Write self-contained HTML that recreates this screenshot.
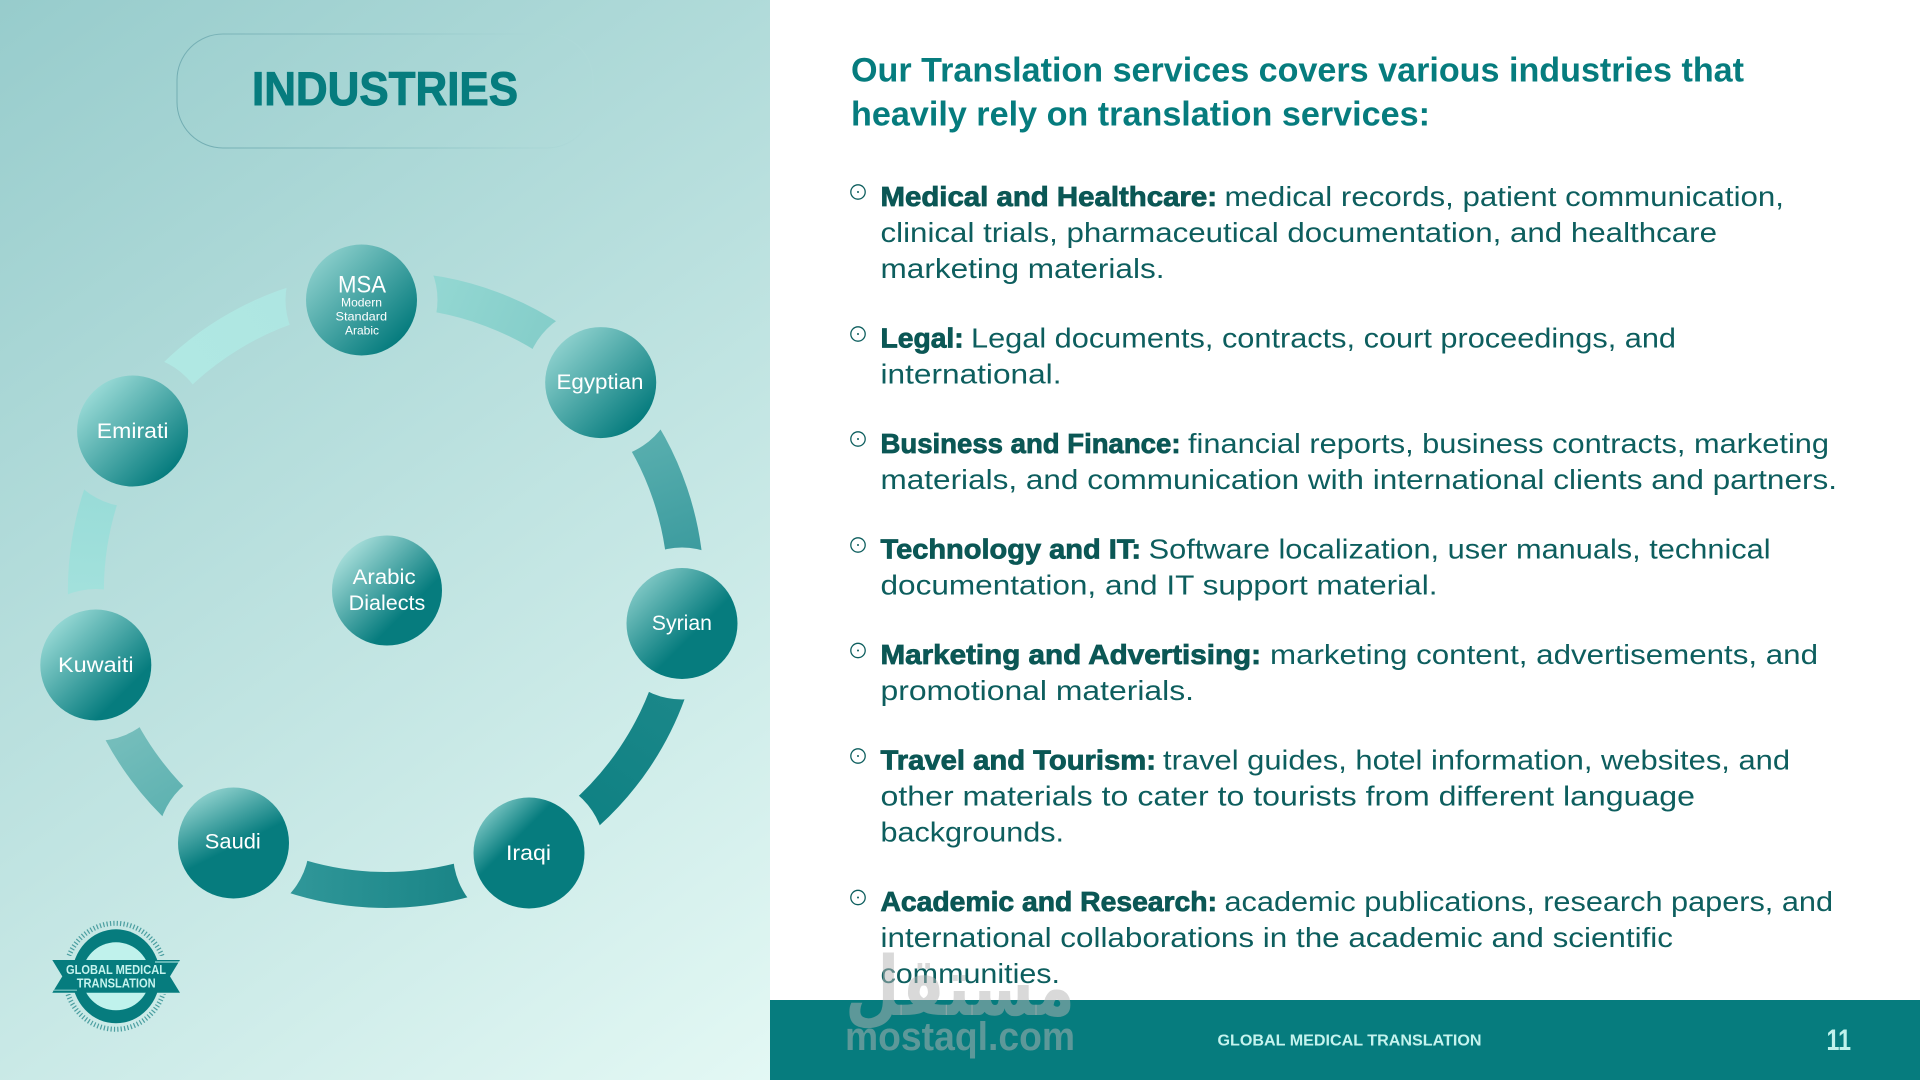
<!DOCTYPE html>
<html lang="en">
<head>
<meta charset="utf-8">
<title>Industries</title>
<style>
html,body{margin:0;padding:0;background:#fff;width:1920px;height:1080px;overflow:hidden}
svg{display:block}
text{font-family:"Liberation Sans","DejaVu Sans",sans-serif}
.n{fill:#fff;font-size:21px}
.s{fill:#fff;font-size:12px}
.r{fill:#0d5e5e;font-size:28px}
.b{fill:#0b5755;font-size:28px;font-weight:bold;stroke:#0b5755;stroke-width:.8px}
.h{fill:#067c7e;font-size:34px;font-weight:bold}
.bl{fill:#fff;stroke:#0d5e5e;stroke-width:1.3}
.d{fill:#0d5e5e}
</style>
</head>
<body>
<svg width="1920" height="1080" viewBox="0 0 1920 1080" xmlns="http://www.w3.org/2000/svg">
<defs>
<linearGradient id="bg" gradientUnits="userSpaceOnUse" x1="0" y1="0" x2="770" y2="1080"><stop offset="0" stop-color="#97cccc"/><stop offset="1" stop-color="#e3f8f4"/></linearGradient>
<linearGradient id="pill" gradientUnits="userSpaceOnUse" x1="190" y1="150" x2="590" y2="40"><stop offset="0" stop-color="#72adb2"/><stop offset=".55" stop-color="#8fc4c6"/><stop offset="1" stop-color="#b4dddc" stop-opacity=".35"/></linearGradient>
<linearGradient id="a1" gradientUnits="userSpaceOnUse" x1="170" y1="380" x2="300" y2="290"><stop offset="0" stop-color="#b0e8e3"/><stop offset="1" stop-color="#aee6e2"/></linearGradient>
<linearGradient id="a2" gradientUnits="userSpaceOnUse" x1="435" y1="290" x2="550" y2="340"><stop offset="0" stop-color="#93d7d2"/><stop offset="1" stop-color="#84cdc9"/></linearGradient>
<linearGradient id="a3" gradientUnits="userSpaceOnUse" x1="645" y1="440" x2="685" y2="550"><stop offset="0" stop-color="#58aeae"/><stop offset="1" stop-color="#3d9c9f"/></linearGradient>
<linearGradient id="a4" gradientUnits="userSpaceOnUse" x1="670" y1="700" x2="590" y2="820"><stop offset="0" stop-color="#1a8789"/><stop offset="1" stop-color="#0f8183"/></linearGradient>
<linearGradient id="a5" gradientUnits="userSpaceOnUse" x1="300" y1="880" x2="460" y2="885"><stop offset="0" stop-color="#2f9698"/><stop offset="1" stop-color="#1a8587"/></linearGradient>
<linearGradient id="a6" gradientUnits="userSpaceOnUse" x1="120" y1="740" x2="170" y2="820"><stop offset="0" stop-color="#74bdbb"/><stop offset="1" stop-color="#5cb1b0"/></linearGradient>
<linearGradient id="a7" gradientUnits="userSpaceOnUse" x1="85" y1="590" x2="95" y2="495"><stop offset="0" stop-color="#a2e1dc"/><stop offset="1" stop-color="#99dcd8"/></linearGradient>
<linearGradient id="n1" x1="0" y1="0" x2="1" y2="1"><stop offset="0" stop-color="#a0dcd8"/><stop offset=".85" stop-color="#067c7e"/></linearGradient>
<linearGradient id="n2" x1="0" y1="0" x2="1" y2="1"><stop offset="0" stop-color="#a6e0dc"/><stop offset=".85" stop-color="#067c7e"/></linearGradient>
<linearGradient id="n3" x1="0" y1="0" x2="1" y2="1"><stop offset="0" stop-color="#a0dcd8"/><stop offset=".6" stop-color="#067c7e"/></linearGradient>
<linearGradient id="n4" x1="0" y1="0" x2="1" y2="1"><stop offset="0" stop-color="#b0e8e3"/><stop offset=".38" stop-color="#067c7e"/></linearGradient>
<linearGradient id="n5" x1=".2" y1="0" x2=".7" y2="1"><stop offset="0" stop-color="#9cd9d5"/><stop offset=".55" stop-color="#067c7e"/></linearGradient>
<linearGradient id="n6" x1="0" y1="0" x2="1" y2="1"><stop offset="0" stop-color="#b5ece7"/><stop offset=".75" stop-color="#067c7e"/></linearGradient>
<linearGradient id="n7" x1="0" y1="0" x2="1" y2="1"><stop offset="0" stop-color="#b5ece7"/><stop offset=".85" stop-color="#067c7e"/></linearGradient>
<linearGradient id="n8" x1="0" y1="0" x2="1" y2="1"><stop offset="0" stop-color="#cdf5f0"/><stop offset=".68" stop-color="#067c7e"/></linearGradient>
<mask id="gaps" maskUnits="userSpaceOnUse" x="0" y="0" width="770" height="1080">
<rect x="0" y="0" width="770" height="1080" fill="#fff"/>
<g fill="#000">
<circle cx="361.5" cy="300" r="76"/><circle cx="600.7" cy="382.6" r="76"/><circle cx="682" cy="623.5" r="76"/><circle cx="529" cy="853" r="76"/><circle cx="233.5" cy="843" r="76"/><circle cx="95.8" cy="665" r="76"/><circle cx="132.6" cy="431" r="76"/>
</g>
</mask>
<clipPath id="tk"><rect x="40" y="900" width="160" height="56"/><rect x="40" y="994" width="160" height="60"/></clipPath>
</defs>

<rect x="0" y="0" width="1920" height="1080" fill="#fff"/>
<rect x="0" y="0" width="770" height="1080" fill="url(#bg)"/>

<rect x="177" y="34" width="416" height="114" rx="46" ry="46" fill="none" stroke="url(#pill)" stroke-width="1"/>
<text x="252" y="105" font-size="47" font-weight="bold" fill="#067c7e" stroke="#067c7e" stroke-width="1" textLength="266" lengthAdjust="spacingAndGlyphs">INDUSTRIES</text>

<g mask="url(#gaps)" fill="none" stroke-width="36">
<path d="M131.8 430.5A300 300 0 0 1 360.7 291" stroke="url(#a1)"/>
<path d="M360.7 291A300 300 0 0 1 601.8 381.6" stroke="url(#a2)"/>
<path d="M601.8 381.6A300 300 0 0 1 684 623.7" stroke="url(#a3)"/>
<path d="M684 623.7A300 300 0 0 1 529.3 853.5" stroke="url(#a4)"/>
<path d="M529.3 853.5A300 300 0 0 1 231.1 846.9" stroke="url(#a5)"/>
<path d="M231.1 846.9A300 300 0 0 1 95.5 665.1" stroke="url(#a6)"/>
<path d="M95.5 665.1A300 300 0 0 1 131.8 430.5" stroke="url(#a7)"/>
</g>

<circle cx="361.5" cy="300" r="55.5" fill="url(#n1)"/>
<circle cx="600.7" cy="382.6" r="55.5" fill="url(#n2)"/>
<circle cx="682" cy="623.5" r="55.5" fill="url(#n3)"/>
<circle cx="529" cy="853" r="55.5" fill="url(#n4)"/>
<circle cx="233.5" cy="843" r="55.5" fill="url(#n5)"/>
<circle cx="95.8" cy="665" r="55.5" fill="url(#n6)"/>
<circle cx="132.6" cy="431" r="55.5" fill="url(#n7)"/>
<circle cx="387" cy="590.5" r="55" fill="url(#n8)"/>

<text x="338" y="292.7" fill="#fff" font-size="24" textLength="48" lengthAdjust="spacingAndGlyphs">MSA</text>
<text class="s" x="341" y="306.5" textLength="41" lengthAdjust="spacingAndGlyphs">Modern</text>
<text class="s" x="335.5" y="320.6" textLength="51.5" lengthAdjust="spacingAndGlyphs">Standard</text>
<text class="s" x="345" y="334.7" textLength="34" lengthAdjust="spacingAndGlyphs">Arabic</text>
<text class="n" x="556.5" y="389" textLength="87" lengthAdjust="spacingAndGlyphs">Egyptian</text>
<text class="n" x="96.8" y="438" textLength="71.7" lengthAdjust="spacingAndGlyphs">Emirati</text>
<text class="n" x="352.6" y="584" textLength="63" lengthAdjust="spacingAndGlyphs">Arabic</text>
<text class="n" x="348.7" y="610" textLength="76.6" lengthAdjust="spacingAndGlyphs">Dialects</text>
<text class="n" x="651.8" y="630.2" textLength="60.2" lengthAdjust="spacingAndGlyphs">Syrian</text>
<text class="n" x="58" y="672" textLength="75.6" lengthAdjust="spacingAndGlyphs">Kuwaiti</text>
<text class="n" x="204.8" y="848.5" textLength="56" lengthAdjust="spacingAndGlyphs">Saudi</text>
<text class="n" x="506" y="860" textLength="45" lengthAdjust="spacingAndGlyphs">Iraqi</text>

<!-- logo -->
<ellipse cx="115.5" cy="976.3" rx="50.5" ry="53" fill="none" stroke="#4b9ea0" stroke-width="5" stroke-dasharray="1.2 2.2" clip-path="url(#tk)"/>
<ellipse cx="116" cy="976.3" rx="44" ry="47" fill="#067c7e"/>
<ellipse cx="116" cy="976.3" rx="34" ry="34" fill="#c0f2ec"/>
<polygon points="52.3,960 180,960 170,976.4 180,992.7 52.3,992.7 62.3,976.4" fill="#067c7e"/>
<rect x="155" y="961.5" width="24" height="1" fill="#c0f2ec"/>
<rect x="54" y="989.6" width="23" height="1.2" fill="#7cc5c2"/>
<text x="66" y="974" font-size="12.5" font-weight="bold" fill="#c5f3ee" textLength="100" lengthAdjust="spacingAndGlyphs">GLOBAL MEDICAL</text>
<text x="76.7" y="987.3" font-size="12.5" font-weight="bold" fill="#c5f3ee" textLength="79" lengthAdjust="spacingAndGlyphs">TRANSLATION</text>

<!-- heading -->
<text class="h" x="851" y="81.5" textLength="893" lengthAdjust="spacingAndGlyphs">Our Translation services covers various industries that</text>
<text class="h" x="851" y="125.5" textLength="579" lengthAdjust="spacingAndGlyphs">heavily rely on translation services:</text>

<!-- list -->
<g>
<circle class="bl" cx="858" cy="192" r="7.2"/><circle class="d" cx="858" cy="192" r="1"/>
<circle class="bl" cx="858" cy="334" r="7.2"/><circle class="d" cx="858" cy="334" r="1"/>
<circle class="bl" cx="858" cy="439" r="7.2"/><circle class="d" cx="858" cy="439" r="1"/>
<circle class="bl" cx="858" cy="545" r="7.2"/><circle class="d" cx="858" cy="545" r="1"/>
<circle class="bl" cx="858" cy="650.5" r="7.2"/><circle class="d" cx="858" cy="650.5" r="1"/>
<circle class="bl" cx="858" cy="756" r="7.2"/><circle class="d" cx="858" cy="756" r="1"/>
<circle class="bl" cx="858" cy="897.5" r="7.2"/><circle class="d" cx="858" cy="897.5" r="1"/>
</g>

<g transform="translate(0,-1)">
<text class="b" x="880.5" y="207" textLength="336.5" lengthAdjust="spacingAndGlyphs">Medical and Healthcare:</text>
<text class="r" x="1224.5" y="207" textLength="559.5" lengthAdjust="spacingAndGlyphs">medical records, patient communication,</text>
<text class="r" x="880.5" y="243" textLength="836.5" lengthAdjust="spacingAndGlyphs">clinical trials, pharmaceutical documentation, and healthcare</text>
<text class="r" x="880.5" y="279" textLength="284" lengthAdjust="spacingAndGlyphs">marketing materials.</text>

<text class="b" x="880.5" y="348.5" textLength="83.2" lengthAdjust="spacingAndGlyphs">Legal:</text>
<text class="r" x="971" y="348.5" textLength="705" lengthAdjust="spacingAndGlyphs">Legal documents, contracts, court proceedings, and</text>
<text class="r" x="880.5" y="384.5" textLength="181" lengthAdjust="spacingAndGlyphs">international.</text>

<text class="b" x="880.5" y="454" textLength="300" lengthAdjust="spacingAndGlyphs">Business and Finance:</text>
<text class="r" x="1188" y="454" textLength="641" lengthAdjust="spacingAndGlyphs">financial reports, business contracts, marketing</text>
<text class="r" x="880.5" y="490" textLength="956.5" lengthAdjust="spacingAndGlyphs">materials, and communication with international clients and partners.</text>

<text class="b" x="880.5" y="559.5" textLength="260.5" lengthAdjust="spacingAndGlyphs">Technology and IT:</text>
<text class="r" x="1148.6" y="559.5" textLength="622" lengthAdjust="spacingAndGlyphs">Software localization, user manuals, technical</text>
<text class="r" x="880.5" y="595.5" textLength="557" lengthAdjust="spacingAndGlyphs">documentation, and IT support material.</text>

<text class="b" x="880.5" y="665" textLength="380.5" lengthAdjust="spacingAndGlyphs">Marketing and Advertising:</text>
<text class="r" x="1270" y="665" textLength="548" lengthAdjust="spacingAndGlyphs">marketing content, advertisements, and</text>
<text class="r" x="880.5" y="701" textLength="313.5" lengthAdjust="spacingAndGlyphs">promotional materials.</text>

<text class="b" x="880.5" y="770.5" textLength="275.5" lengthAdjust="spacingAndGlyphs">Travel and Tourism:</text>
<text class="r" x="1163" y="770.5" textLength="627" lengthAdjust="spacingAndGlyphs">travel guides, hotel information, websites, and</text>
<text class="r" x="880.5" y="806.5" textLength="814.5" lengthAdjust="spacingAndGlyphs">other materials to cater to tourists from different language</text>
<text class="r" x="880.5" y="842.5" textLength="183.5" lengthAdjust="spacingAndGlyphs">backgrounds.</text>

<text class="b" x="880.5" y="912" textLength="336.5" lengthAdjust="spacingAndGlyphs">Academic and Research:</text>
<text class="r" x="1224.5" y="912" textLength="608.5" lengthAdjust="spacingAndGlyphs">academic publications, research papers, and</text>
<text class="r" x="880.5" y="948" textLength="792.5" lengthAdjust="spacingAndGlyphs">international collaborations in the academic and scientific</text>
<text class="r" x="880.5" y="984" textLength="179.5" lengthAdjust="spacingAndGlyphs">communities.</text>
</g>

<!-- footer -->
<rect x="770" y="1000" width="1150" height="80" fill="#067c7e"/>
<text x="1217.5" y="1045.7" font-size="15.5" font-weight="bold" fill="#c5f3ee" textLength="264" lengthAdjust="spacingAndGlyphs">GLOBAL MEDICAL TRANSLATION</text>
<text x="1826.5" y="1050" font-size="30" font-weight="bold" fill="#c0f2ec" textLength="24.5" lengthAdjust="spacingAndGlyphs">11</text>

<!-- watermark -->
<text x="845" y="1015" font-size="82" font-weight="bold" fill="rgb(180,180,180)" fill-opacity=".5" textLength="230" lengthAdjust="spacingAndGlyphs" style='font-family:"DejaVu Sans",sans-serif'>مستقل</text>
<text x="845" y="1050" font-size="40" font-weight="bold" fill="rgb(180,180,180)" fill-opacity=".5" textLength="230" lengthAdjust="spacingAndGlyphs">mostaql.com</text>
</svg>
</body>
</html>
